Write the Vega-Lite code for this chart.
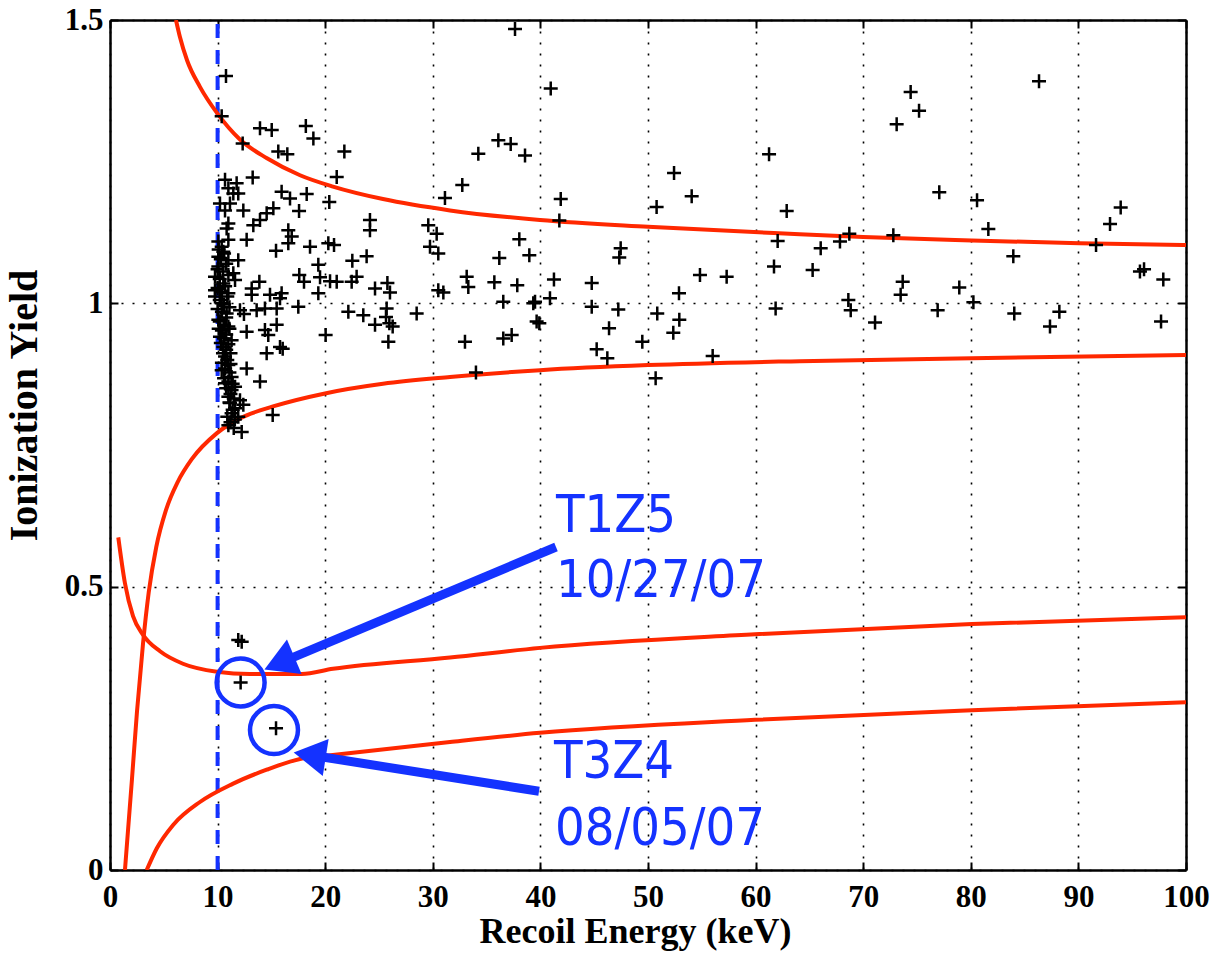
{
  "$schema": "https://vega.github.io/schema/vega-lite/v6.json",
  "width": 1076,
  "height": 850,
  "autosize": {"type": "none"},
  "padding": {"left": 110, "top": 20, "right": 36, "bottom": 83},
  "background": "white",
  "config": {
    "view": {"stroke": null},
    "axis": {
      "labelFont": "Liberation Serif", "labelFontWeight": "bold", "labelFontSize": 31, "labelColor": "black",
      "titleFont": "Liberation Serif", "titleFontWeight": "bold", "titleFontSize": 36, "titleColor": "black",
      "domainColor": "black", "domainWidth": 2.5, "tickColor": "black", "tickWidth": 2, "tickSize": -8,
      "gridColor": "black", "gridDash": [2, 9], "gridWidth": 1.6, "gridOpacity": 1,
      "labelFlush": false, "labelOverlap": false, "labelBound": false
    }
  },
  "datasets": {
    "curves": [
      {"c": "A", "x": 6.13, "y": 1.5}, {"c": "A", "x": 6.5, "y": 1.47}, {"c": "A", "x": 7.16, "y": 1.429}, {"c": "A", "x": 8.36, "y": 1.382}, {"c": "A", "x": 9.94, "y": 1.336}, {"c": "A", "x": 12.08, "y": 1.289}, {"c": "A", "x": 14.59, "y": 1.256}, {"c": "A", "x": 17.66, "y": 1.226}, {"c": "A", "x": 20.72, "y": 1.206}, {"c": "A", "x": 25.37, "y": 1.184}, {"c": "A", "x": 31.6, "y": 1.164}, {"c": "A", "x": 39.96, "y": 1.147}, {"c": "A", "x": 50, "y": 1.135}, {"c": "A", "x": 64.1, "y": 1.122}, {"c": "A", "x": 70, "y": 1.117}, {"c": "A", "x": 80.1, "y": 1.111}, {"c": "A", "x": 90.1, "y": 1.106}, {"c": "A", "x": 100, "y": 1.103},
      {"c": "B", "x": 1.39, "y": 0}, {"c": "B", "x": 2.04, "y": 0.16}, {"c": "B", "x": 2.51, "y": 0.28}, {"c": "B", "x": 3.07, "y": 0.4}, {"c": "B", "x": 3.6, "y": 0.49}, {"c": "B", "x": 4.3, "y": 0.57}, {"c": "B", "x": 5.2, "y": 0.635}, {"c": "B", "x": 6.3, "y": 0.685}, {"c": "B", "x": 7.6, "y": 0.725}, {"c": "B", "x": 9.94, "y": 0.771}, {"c": "B", "x": 12.08, "y": 0.797}, {"c": "B", "x": 15.15, "y": 0.818}, {"c": "B", "x": 19.98, "y": 0.841}, {"c": "B", "x": 25.37, "y": 0.858}, {"c": "B", "x": 31.6, "y": 0.87}, {"c": "B", "x": 39.96, "y": 0.882}, {"c": "B", "x": 50, "y": 0.891}, {"c": "B", "x": 64.1, "y": 0.898}, {"c": "B", "x": 80.1, "y": 0.903}, {"c": "B", "x": 100, "y": 0.909},
      {"c": "C", "x": 0.77, "y": 0.587}, {"c": "C", "x": 1.39, "y": 0.506}, {"c": "C", "x": 2.14, "y": 0.448}, {"c": "C", "x": 3.07, "y": 0.415}, {"c": "C", "x": 4.65, "y": 0.386}, {"c": "C", "x": 6.78, "y": 0.364}, {"c": "C", "x": 9.94, "y": 0.35}, {"c": "C", "x": 13.0, "y": 0.346}, {"c": "C", "x": 17.8, "y": 0.346}, {"c": "C", "x": 20.72, "y": 0.355}, {"c": "C", "x": 31.6, "y": 0.375}, {"c": "C", "x": 39.96, "y": 0.392}, {"c": "C", "x": 59.94, "y": 0.416}, {"c": "C", "x": 80.1, "y": 0.434}, {"c": "C", "x": 100, "y": 0.446},
      {"c": "D", "x": 3.41, "y": 0}, {"c": "D", "x": 4.34, "y": 0.038}, {"c": "D", "x": 5.89, "y": 0.08}, {"c": "D", "x": 8.36, "y": 0.12}, {"c": "D", "x": 11.4, "y": 0.152}, {"c": "D", "x": 14.56, "y": 0.177}, {"c": "D", "x": 17.66, "y": 0.196}, {"c": "D", "x": 20.7, "y": 0.203}, {"c": "D", "x": 31.6, "y": 0.226}, {"c": "D", "x": 39.96, "y": 0.242}, {"c": "D", "x": 59.94, "y": 0.265}, {"c": "D", "x": 80.1, "y": 0.282}, {"c": "D", "x": 100, "y": 0.296}
    ],
    "points": [
      {"x": 10.78, "y": 1.401}, {"x": 10.38, "y": 1.33}, {"x": 12.33, "y": 1.282},
      {"x": 13.94, "y": 1.309}, {"x": 15.03, "y": 1.306}, {"x": 18.2, "y": 1.313}, {"x": 18.9, "y": 1.291}, {"x": 15.64, "y": 1.268}, {"x": 16.48, "y": 1.263}, {"x": 21.78, "y": 1.268}, {"x": 21.07, "y": 1.223}, {"x": 31.13, "y": 1.186}, {"x": 13.26, "y": 1.222}, {"x": 15.95, "y": 1.197}, {"x": 16.73, "y": 1.185}, {"x": 18.28, "y": 1.193}, {"x": 20.38, "y": 1.179}, {"x": 15.18, "y": 1.168}, {"x": 14.56, "y": 1.159}, {"x": 17.57, "y": 1.163}, {"x": 13.94, "y": 1.147}, {"x": 13.32, "y": 1.138}, {"x": 24.16, "y": 1.147}, {"x": 24.16, "y": 1.129}, {"x": 29.58, "y": 1.138}, {"x": 30.36, "y": 1.123}, {"x": 29.74, "y": 1.1}, {"x": 30.51, "y": 1.088}, {"x": 16.57, "y": 1.129}, {"x": 16.89, "y": 1.118}, {"x": 16.57, "y": 1.106}, {"x": 12.7, "y": 1.112}, {"x": 15.43, "y": 1.093}, {"x": 18.59, "y": 1.1}, {"x": 20.29, "y": 1.106}, {"x": 20.82, "y": 1.103}, {"x": 22.52, "y": 1.075}, {"x": 23.85, "y": 1.083}, {"x": 19.36, "y": 1.068}, {"x": 19.52, "y": 1.046}, {"x": 17.59, "y": 1.05}, {"x": 18.03, "y": 1.038}, {"x": 20.45, "y": 1.039}, {"x": 21.07, "y": 1.038}, {"x": 22.46, "y": 1.038}, {"x": 22.92, "y": 1.047}, {"x": 24.63, "y": 1.026}, {"x": 25.78, "y": 1.036}, {"x": 26.02, "y": 1.019}, {"x": 19.36, "y": 1.018}, {"x": 13.88, "y": 1.038}, {"x": 13.17, "y": 1.026}, {"x": 13.17, "y": 1.015}, {"x": 14.87, "y": 1.015}, {"x": 15.95, "y": 1.018}, {"x": 15.8, "y": 1.009}, {"x": 30.51, "y": 1.023}, {"x": 30.98, "y": 1.019}, {"x": 17.5, "y": 0.994}, {"x": 13.63, "y": 0.988}, {"x": 14.4, "y": 0.991}, {"x": 15.49, "y": 0.991}, {"x": 12.45, "y": 0.981}, {"x": 22.15, "y": 0.985}, {"x": 23.54, "y": 0.979}, {"x": 25.71, "y": 0.991}, {"x": 25.65, "y": 0.976}, {"x": 28.5, "y": 0.982}, {"x": 24.63, "y": 0.962}, {"x": 25.96, "y": 0.965}, {"x": 26.27, "y": 0.959}, {"x": 25.87, "y": 0.932}, {"x": 20.04, "y": 0.944}, {"x": 12.7, "y": 0.95}, {"x": 14.4, "y": 0.953}, {"x": 14.71, "y": 0.944}, {"x": 15.49, "y": 0.962}, {"x": 15.8, "y": 0.923}, {"x": 16.05, "y": 0.92}, {"x": 14.56, "y": 0.912}, {"x": 12.7, "y": 0.885}, {"x": 13.94, "y": 0.862}, {"x": 15.12, "y": 0.803},
      {"x": 10.69, "y": 1.218}, {"x": 11.77, "y": 1.212}, {"x": 11.0, "y": 1.203}, {"x": 11.46, "y": 1.194}, {"x": 11.92, "y": 1.194}, {"x": 10.22, "y": 1.176}, {"x": 11.15, "y": 1.176}, {"x": 10.69, "y": 1.164}, {"x": 12.39, "y": 1.164}, {"x": 11.0, "y": 1.141}, {"x": 10.84, "y": 1.132}, {"x": 10.07, "y": 1.109}, {"x": 10.38, "y": 1.1}, {"x": 11.0, "y": 1.112}, {"x": 10.53, "y": 1.091}, {"x": 10.07, "y": 1.082}, {"x": 11.0, "y": 1.076}, {"x": 11.92, "y": 1.076}, {"x": 10.07, "y": 1.065}, {"x": 11.46, "y": 1.053}, {"x": 9.76, "y": 1.047}, {"x": 10.53, "y": 1.035}, {"x": 11.62, "y": 1.041}, {"x": 9.76, "y": 1.023}, {"x": 11.0, "y": 1.018},
      {"x": 9.76, "y": 1.012}, {"x": 10.38, "y": 1.0}, {"x": 12.08, "y": 0.988}, {"x": 10.84, "y": 0.982}, {"x": 10.07, "y": 0.971}, {"x": 11.0, "y": 0.959}, {"x": 10.22, "y": 0.941}, {"x": 11.3, "y": 0.935}, {"x": 10.53, "y": 0.923}, {"x": 10.69, "y": 0.906}, {"x": 11.0, "y": 0.891}, {"x": 10.38, "y": 0.882}, {"x": 11.3, "y": 0.87}, {"x": 10.69, "y": 0.859}, {"x": 11.62, "y": 0.853}, {"x": 11.3, "y": 0.847}, {"x": 11.0, "y": 0.835}, {"x": 12.08, "y": 0.829}, {"x": 11.15, "y": 0.824}, {"x": 11.62, "y": 0.815}, {"x": 12.39, "y": 0.821}, {"x": 11.3, "y": 0.806}, {"x": 11.92, "y": 0.8}, {"x": 12.24, "y": 0.773}, {"x": 11.0, "y": 0.785},
      {"x": 10.1, "y": 1.095}, {"x": 10.6, "y": 1.088}, {"x": 10.3, "y": 1.078}, {"x": 10.8, "y": 1.07}, {"x": 10.0, "y": 1.06}, {"x": 10.5, "y": 1.056}, {"x": 11.0, "y": 1.05}, {"x": 10.2, "y": 1.043}, {"x": 10.7, "y": 1.03}, {"x": 10.0, "y": 1.027}, {"x": 10.4, "y": 1.02}, {"x": 10.9, "y": 1.012}, {"x": 10.2, "y": 1.006}, {"x": 10.6, "y": 0.998}, {"x": 11.1, "y": 0.993}, {"x": 10.0, "y": 0.99}, {"x": 10.4, "y": 0.985}, {"x": 10.8, "y": 0.975}, {"x": 10.2, "y": 0.968}, {"x": 10.6, "y": 0.962}, {"x": 11.1, "y": 0.955}, {"x": 10.4, "y": 0.952}, {"x": 10.8, "y": 0.945}, {"x": 10.1, "y": 0.955}, {"x": 10.6, "y": 0.938}, {"x": 11.0, "y": 0.928}, {"x": 10.3, "y": 0.93}, {"x": 10.8, "y": 0.918}, {"x": 11.2, "y": 0.912}, {"x": 10.5, "y": 0.912}, {"x": 10.9, "y": 0.9}, {"x": 10.4, "y": 0.895}, {"x": 11.2, "y": 0.893}, {"x": 10.7, "y": 0.885}, {"x": 11.1, "y": 0.878}, {"x": 10.6, "y": 0.868}, {"x": 11.0, "y": 0.862}, {"x": 11.4, "y": 0.858}, {"x": 10.8, "y": 0.85}, {"x": 11.2, "y": 0.84}, {"x": 11.5, "y": 0.832}, {"x": 11.1, "y": 0.825}, {"x": 11.4, "y": 0.812}, {"x": 11.6, "y": 0.795}, {"x": 11.2, "y": 0.79}, {"x": 11.5, "y": 0.78}, {"x": 10.9, "y": 0.8},
      {"x": 37.64, "y": 1.484}, {"x": 40.96, "y": 1.379}, {"x": 36.09, "y": 1.288}, {"x": 37.24, "y": 1.281}, {"x": 34.23, "y": 1.264}, {"x": 38.57, "y": 1.261}, {"x": 32.74, "y": 1.209}, {"x": 41.89, "y": 1.184}, {"x": 41.76, "y": 1.146}, {"x": 38.04, "y": 1.113}, {"x": 36.18, "y": 1.08}, {"x": 38.97, "y": 1.085}, {"x": 33.15, "y": 1.047}, {"x": 33.3, "y": 1.029}, {"x": 35.72, "y": 1.037}, {"x": 37.85, "y": 1.032}, {"x": 41.26, "y": 1.042}, {"x": 36.55, "y": 1.003}, {"x": 39.34, "y": 1.0}, {"x": 39.5, "y": 1.003}, {"x": 40.89, "y": 1.009}, {"x": 39.65, "y": 0.968}, {"x": 39.9, "y": 0.965}, {"x": 32.99, "y": 0.932}, {"x": 36.55, "y": 0.938}, {"x": 37.33, "y": 0.944}, {"x": 34.01, "y": 0.878}, {"x": 44.77, "y": 1.036}, {"x": 44.77, "y": 0.994}, {"x": 47.24, "y": 0.989}, {"x": 47.46, "y": 1.097}, {"x": 47.33, "y": 1.081}, {"x": 46.38, "y": 0.956}, {"x": 45.23, "y": 0.919}, {"x": 46.22, "y": 0.903}, {"x": 49.47, "y": 0.932}, {"x": 50.71, "y": 0.868}, {"x": 50.8, "y": 1.17}, {"x": 52.42, "y": 1.23}, {"x": 54.06, "y": 1.189}, {"x": 54.83, "y": 1.05}, {"x": 57.31, "y": 1.047}, {"x": 52.88, "y": 1.018}, {"x": 50.86, "y": 0.982}, {"x": 52.91, "y": 0.971}, {"x": 52.35, "y": 0.948}, {"x": 56.01, "y": 0.907}, {"x": 61.25, "y": 1.263}, {"x": 62.89, "y": 1.163}, {"x": 62.05, "y": 1.11}, {"x": 61.71, "y": 1.065}, {"x": 61.86, "y": 0.991},
      {"x": 68.71, "y": 1.123}, {"x": 67.84, "y": 1.109}, {"x": 66.05, "y": 1.097}, {"x": 65.3, "y": 1.059}, {"x": 68.62, "y": 1.006}, {"x": 68.84, "y": 0.988}, {"x": 71.1, "y": 0.966}, {"x": 72.8, "y": 1.12}, {"x": 73.11, "y": 1.316}, {"x": 74.41, "y": 1.373}, {"x": 75.19, "y": 1.34}, {"x": 73.67, "y": 1.038}, {"x": 73.48, "y": 1.015}, {"x": 77.07, "y": 1.196}, {"x": 76.92, "y": 0.988}, {"x": 78.93, "y": 1.028}, {"x": 80.24, "y": 1.002}, {"x": 80.58, "y": 1.182}, {"x": 81.63, "y": 1.131}, {"x": 83.95, "y": 1.083}, {"x": 84.04, "y": 0.982}, {"x": 86.34, "y": 1.392}, {"x": 87.36, "y": 0.959}, {"x": 88.23, "y": 0.985}, {"x": 91.64, "y": 1.103}, {"x": 92.94, "y": 1.14}, {"x": 93.93, "y": 1.169}, {"x": 95.72, "y": 1.056}, {"x": 96.1, "y": 1.06}, {"x": 97.89, "y": 1.042}, {"x": 97.68, "y": 0.968},
      {"x": 11.92, "y": 0.406}, {"x": 12.24, "y": 0.403}, {"x": 12.14, "y": 0.331}, {"x": 15.43, "y": 0.25}
    ],
    "threshold": [{"x": 10, "y": 0, "y2": 1.5}],
    "circles": [{"x": 12.14, "y": 0.331}, {"x": 15.24, "y": 0.247}],
    "shafts": [
      {"arrow": "T1Z5", "x": 41.45, "y": 0.57, "x2": 15.74, "y2": 0.365},
      {"arrow": "T3Z4", "x": 39.87, "y": 0.139, "x2": 18.56, "y2": 0.203}
    ],
    "heads": [
      {"arrow": "T1Z5", "x": 15.74, "y": 0.365},
      {"arrow": "T3Z4", "x": 18.56, "y": 0.203}
    ],
    "labels": [
      {"text": "T1Z5", "x": 41.45, "y": 0.597},
      {"text": "10/27/07", "x": 41.45, "y": 0.482},
      {"text": "T3Z4", "x": 41.26, "y": 0.162},
      {"text": "08/05/07", "x": 41.35, "y": 0.044}
    ]
  },
  "resolve": {"axis": {"x": "independent", "y": "independent"}},
  "layer": [
    {
      "data": {"name": "threshold"},
      "mark": {"type": "rule", "color": "#1432ff", "strokeWidth": 4, "strokeDash": [14, 12]},
      "encoding": {
        "x": {"field": "x", "type": "quantitative", "scale": {"domain": [0, 100], "nice": false},
          "axis": {"values": [0, 10, 20, 30, 40, 50, 60, 70, 80, 90, 100], "format": "d", "grid": true, "labelPadding": 20, "title": "Recoil Energy (keV)", "titleX": 525, "titleY": 72, "titleBaseline": "alphabetic"}},
        "y": {"field": "y", "type": "quantitative", "scale": {"domain": [0, 1.5], "nice": false},
          "axis": {"values": [0, 0.5, 1, 1.5], "format": "~g", "grid": true, "labelPadding": 15, "title": "Ionization Yield", "titleFontSize": 40, "titleAngle": 270, "titleX": -74, "titleY": 385, "titleBaseline": "alphabetic", "titleAlign": "center"}},
        "y2": {"field": "y2"}
      }
    },
    {
      "data": {"name": "curves"},
      "mark": {"type": "line", "color": "#ff2800", "strokeWidth": 4, "clip": true, "interpolate": "monotone"},
      "encoding": {
        "x": {"field": "x", "type": "quantitative", "scale": {"domain": [0, 100], "nice": false},
          "axis": {"orient": "top", "values": [0, 10, 20, 30, 40, 50, 60, 70, 80, 90, 100], "labels": false, "grid": false, "title": null}},
        "y": {"field": "y", "type": "quantitative", "scale": {"domain": [0, 1.5], "nice": false},
          "axis": {"orient": "right", "values": [0, 0.5, 1, 1.5], "labels": false, "grid": false, "title": null}},
        "detail": {"field": "c"}
      }
    },
    {
      "data": {"name": "points"},
      "mark": {"type": "point", "shape": "M-1,0L1,0M0,-1L0,1", "filled": false, "stroke": "black", "strokeWidth": 2.5, "size": 196, "opacity": 1},
      "encoding": {
        "x": {"field": "x", "type": "quantitative", "axis": null},
        "y": {"field": "y", "type": "quantitative", "axis": null}
      }
    },
    {
      "data": {"name": "circles"},
      "mark": {"type": "point", "shape": "circle", "filled": false, "stroke": "#1432ff", "strokeWidth": 4.5, "size": 2300, "opacity": 1},
      "encoding": {
        "x": {"field": "x", "type": "quantitative", "axis": null},
        "y": {"field": "y", "type": "quantitative", "axis": null}
      }
    },
    {
      "data": {"name": "shafts"},
      "mark": {"type": "rule", "color": "#1432ff", "strokeWidth": 9, "strokeCap": "butt"},
      "encoding": {
        "x": {"field": "x", "type": "quantitative", "axis": null},
        "y": {"field": "y", "type": "quantitative", "axis": null},
        "x2": {"field": "x2"},
        "y2": {"field": "y2"}
      }
    },
    {
      "data": {"name": "heads"},
      "transform": [{"filter": "datum.arrow === 'T1Z5'"}],
      "mark": {"type": "point", "shape": "triangle-up", "filled": true, "color": "#1432ff", "size": 1400, "angle": 247, "opacity": 1},
      "encoding": {
        "x": {"field": "x", "type": "quantitative", "axis": null},
        "y": {"field": "y", "type": "quantitative", "axis": null}
      }
    },
    {
      "data": {"name": "heads"},
      "transform": [{"filter": "datum.arrow === 'T3Z4'"}],
      "mark": {"type": "point", "shape": "triangle-up", "filled": true, "color": "#1432ff", "size": 1400, "angle": 279, "opacity": 1},
      "encoding": {
        "x": {"field": "x", "type": "quantitative", "axis": null},
        "y": {"field": "y", "type": "quantitative", "axis": null}
      }
    },
    {
      "data": {"name": "labels"},
      "mark": {"type": "text", "font": "'DejaVu Sans Condensed', 'DejaVu Sans', sans-serif", "fontSize": 52, "color": "#1432ff", "align": "left", "baseline": "alphabetic"},
      "encoding": {
        "x": {"field": "x", "type": "quantitative", "axis": null},
        "y": {"field": "y", "type": "quantitative", "axis": null},
        "text": {"field": "text"}
      }
    }
  ]
}
